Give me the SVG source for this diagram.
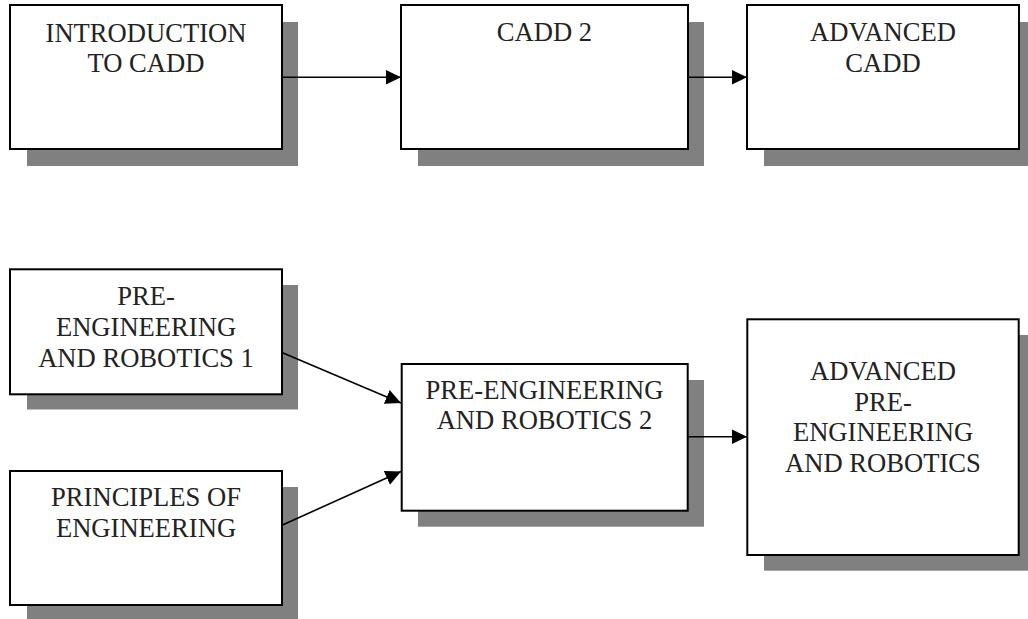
<svg xmlns="http://www.w3.org/2000/svg" width="1028" height="619" viewBox="0 0 1028 619">
<style>
.shadow{fill:#808080;stroke:none}
.box{fill:#fff;stroke:#000;stroke-width:2}
.lbl{font-family:'Liberation Serif','DejaVu Serif',serif;font-size:26.6px;fill:#222;text-anchor:middle}
.conn{stroke:#000;stroke-width:1.6;fill:none}
</style>
<defs>
<marker id="ah" markerUnits="userSpaceOnUse" markerWidth="16" markerHeight="16" viewBox="0 0 16 16" refX="15.5" refY="8" orient="auto">
<path d="M0,0.5 L15.5,8 L0,15.5 Z" fill="#000"/>
</marker>
</defs>
<g id="intro">
<rect class="shadow" x="27" y="22" width="271" height="144"/>
<rect class="box" x="10" y="5" width="272" height="144"/>
<text class="lbl" font-family="Liberation Serif, serif" x="146" y="41.7">INTRODUCTION</text>
<text class="lbl" font-family="Liberation Serif, serif" x="146" y="72">TO CADD</text>
</g>
<g id="cadd2">
<rect class="shadow" x="418" y="22" width="286" height="144"/>
<rect class="box" x="401" y="5" width="287" height="144"/>
<text class="lbl" font-family="Liberation Serif, serif" x="544.5" y="41">CADD 2</text>
</g>
<g id="advcadd">
<rect class="shadow" x="764" y="22" width="264" height="144"/>
<rect class="box" x="747" y="5" width="272" height="144"/>
<text class="lbl" font-family="Liberation Serif, serif" x="883" y="41">ADVANCED</text>
<text class="lbl" font-family="Liberation Serif, serif" x="883" y="71.7">CADD</text>
</g>
<g id="per1">
<rect class="shadow" x="27" y="285" width="271" height="124.5"/>
<rect class="box" x="10" y="269.3" width="272" height="125"/>
<text class="lbl" font-family="Liberation Serif, serif" x="146" y="305">PRE-</text>
<text class="lbl" font-family="Liberation Serif, serif" x="146" y="335.5">ENGINEERING</text>
<text class="lbl" font-family="Liberation Serif, serif" x="146" y="366.5">AND ROBOTICS 1</text>
</g>
<g id="poe">
<rect class="shadow" x="27" y="487" width="271" height="132"/>
<rect class="box" x="10" y="471" width="272" height="134"/>
<text class="lbl" font-family="Liberation Serif, serif" x="146" y="505.5">PRINCIPLES OF</text>
<text class="lbl" font-family="Liberation Serif, serif" x="146" y="536.5">ENGINEERING</text>
</g>
<g id="per2">
<rect class="shadow" x="418" y="380" width="286" height="146.7"/>
<rect class="box" x="401.7" y="364" width="286" height="146.7"/>
<text class="lbl" font-family="Liberation Serif, serif" x="544.5" y="399">PRE-ENGINEERING</text>
<text class="lbl" font-family="Liberation Serif, serif" x="544.5" y="429.3">AND ROBOTICS 2</text>
</g>
<g id="advper">
<rect class="shadow" x="764" y="335" width="264" height="235.7"/>
<rect class="box" x="747.3" y="319.3" width="271.4" height="235.7"/>
<text class="lbl" font-family="Liberation Serif, serif" x="883" y="380">ADVANCED</text>
<text class="lbl" font-family="Liberation Serif, serif" x="883" y="410.5">PRE-</text>
<text class="lbl" font-family="Liberation Serif, serif" x="883" y="441">ENGINEERING</text>
<text class="lbl" font-family="Liberation Serif, serif" x="883" y="471.5">AND ROBOTICS</text>
</g>
<g id="connectors">
<line class="conn" x1="282" y1="77.3" x2="401" y2="77.3" marker-end="url(#ah)"/>
<line class="conn" x1="688" y1="77.3" x2="747" y2="77.3" marker-end="url(#ah)"/>
<line class="conn" x1="282.5" y1="352.7" x2="401" y2="403" marker-end="url(#ah)"/>
<line class="conn" x1="282.5" y1="525" x2="401" y2="471.5" marker-end="url(#ah)"/>
<line class="conn" x1="688" y1="436.7" x2="747" y2="436.7" marker-end="url(#ah)"/>
</g>
</svg>
